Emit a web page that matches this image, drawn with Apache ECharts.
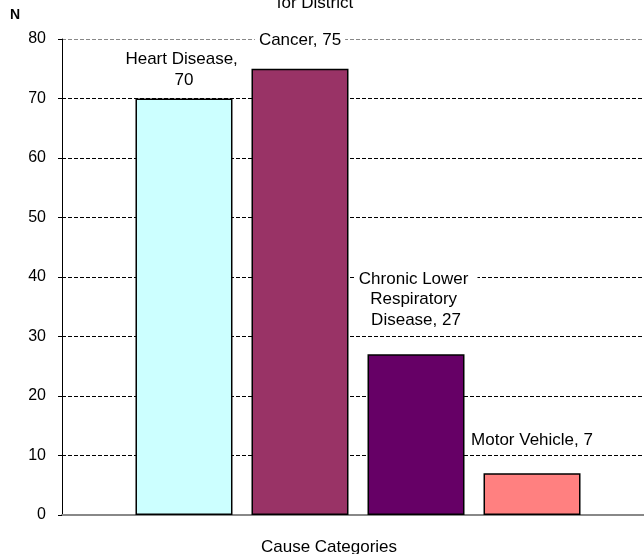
<!DOCTYPE html>
<html><head><meta charset="utf-8">
<script src="https://cdn.jsdelivr.net/npm/echarts@6/dist/echarts.min.js"></script>
<style>html,body{margin:0;padding:0;background:#fff}#c{width:644px;height:554px}</style>
</head><body><div id="c"></div>
<script>
const categories = ['Heart Disease', 'Cancer', 'Chronic Lower Respiratory Disease', 'Motor Vehicle'];
const values = [70, 75, 27, 7];
const colors = ['#CCFFFF', '#993366', '#660066', '#FF8080'];
const yTicks = [0, 10, 20, 30, 40, 50, 60, 70, 80];

const labelWrap = [125, null, 115, null];
const labelDist = [8, 18, 24, 23];

const chart = echarts.init(document.getElementById('c'));
const font = 'Liberation Sans, Arial, sans-serif';
const series = categories.map((name, i) => {
  const lbl = {
    show: true, position: 'top', distance: labelDist[i],
    formatter: p => p.seriesName + ', ' + p.value,
    fontFamily: font, fontSize: 17, color: '#000', lineHeight: 20.5,
    backgroundColor: '#fff', padding: [0, 4], align: 'center'
  };
  if (labelWrap[i]) { lbl.width = labelWrap[i]; lbl.overflow = 'break'; }
  return {
    type: 'bar', name: name, data: [values[i]],
    barWidth: 97, barGap: '19.6%',
    itemStyle: { color: colors[i], borderColor: '#000', borderWidth: 1.5 },
    label: lbl, z: 3
  };
});
chart.setOption({
  animation: false,
  title: { text: 'for District', left: 310, textAlign: 'center', top: -10,
    textStyle: { fontFamily: font, fontSize: 17, fontWeight: 'normal', color: '#000' } },
  graphic: [{ type: 'text', left: 10, top: 8, style: { text: 'N', font: 'bold 14px ' + font, fill: '#000' } }],
  grid: { left: 62, right: -10, top: 39, bottom: 39, containLabel: false, outerBoundsMode: 'none' },
  xAxis: {
    type: 'category', data: [''],
    name: 'Cause Categories', nameLocation: 'middle', nameGap: 24,
    nameTextStyle: { fontFamily: font, fontSize: 17, color: '#000', padding: [0, 58, 0, 0] },
    axisLine: { lineStyle: { color: '#888', width: 2 } },
    axisTick: { show: false }, axisLabel: { show: false }
  },
  yAxis: {
    type: 'value', min: yTicks[0], max: yTicks[yTicks.length - 1], interval: 10,
    axisLine: { show: true, lineStyle: { color: '#000', width: 1 } },
    axisTick: { show: true, length: 4, lineStyle: { color: '#000' } },
    axisLabel: { fontFamily: font, fontSize: 16, color: '#000', margin: 16 },
    splitLine: { show: true, lineStyle: { type: [4, 2], width: 1.2,
      color: ['#888', '#000', '#000', '#000', '#000', '#000', '#000', '#000', '#888'] } }
  },
  series: series
});
</script></body></html>
